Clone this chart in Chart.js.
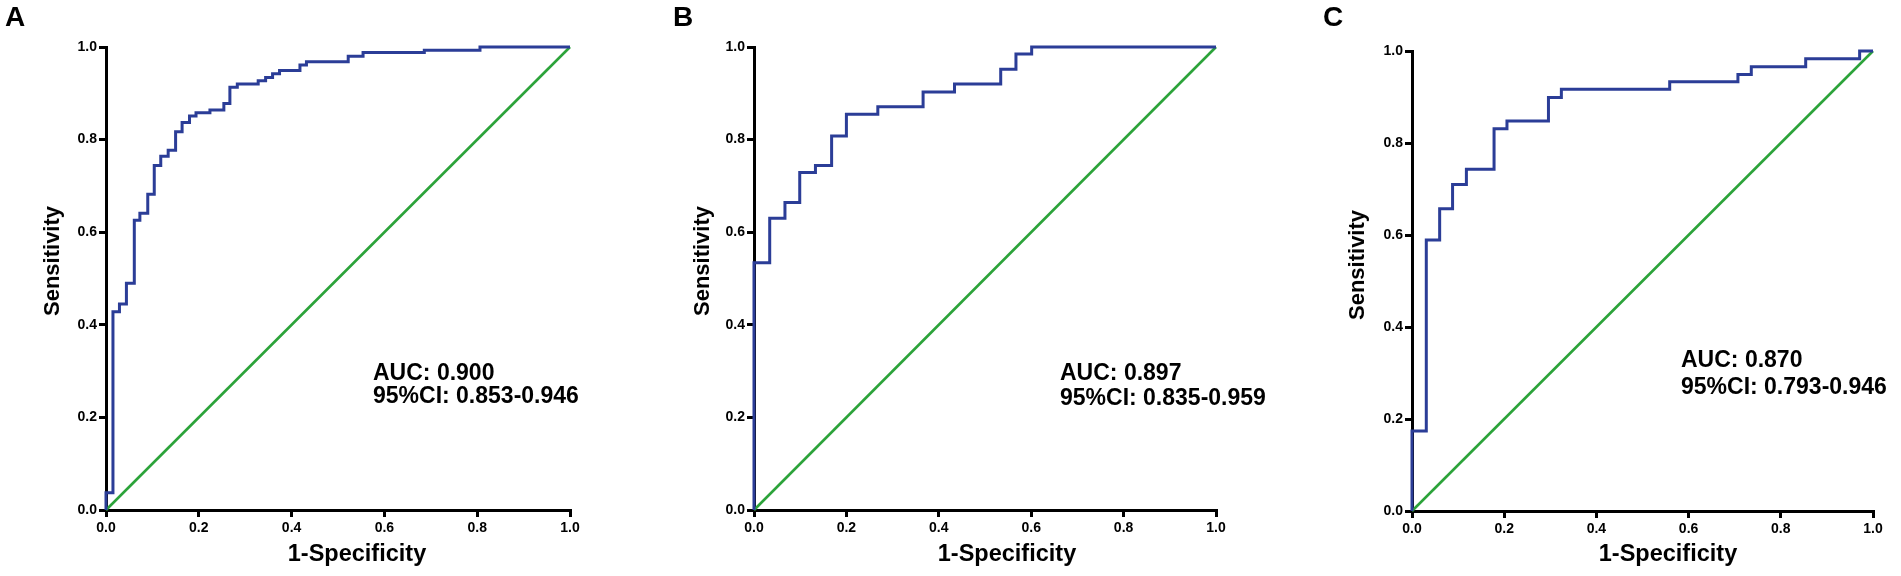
<!DOCTYPE html>
<html>
<head>
<meta charset="utf-8">
<script src="https://cdn.jsdelivr.net/npm/chart.js@4.4.1/dist/chart.umd.min.js"></script>
<style>
  html, body { margin: 0; padding: 0; background: #fff; }
  #wrap { position: relative; width: 1901px; height: 576px; overflow: hidden; background: #fff; }
  canvas { position: absolute; top: 0; }
  .txt { position: absolute; font-family: "Liberation Sans", Arial, Helvetica, sans-serif; font-weight: bold; color: #000; white-space: nowrap; line-height: 1; }
  .lbl { font-size: 28px; }
  .auc { font-size: 23px; }
  .xt { font-size: 23.5px; transform: translateX(-50%); }
  .yt { font-size: 22px; transform: translate(-50%, -50%) rotate(-90deg); }
</style>
</head>
<body>
<div id="wrap">
  <canvas id="cA" width="640" height="576" style="left:0px"></canvas>
  <canvas id="cB" width="620" height="576" style="left:650px"></canvas>
  <canvas id="cC" width="601" height="576" style="left:1300px"></canvas>

  <div class="txt lbl" style="left:5px; top:3px">A</div>
  <div class="txt lbl" style="left:673px; top:3px">B</div>
  <div class="txt lbl" style="left:1323px; top:3px">C</div>

  <div class="txt yt" style="left:52px; top:261px">Sensitivity</div>
  <div class="txt yt" style="left:702px; top:261px">Sensitivity</div>
  <div class="txt yt" style="left:1357px; top:265px">Sensitivity</div>

  <div class="txt xt" style="left:357px; top:542px">1-Specificity</div>
  <div class="txt xt" style="left:1007px; top:542px">1-Specificity</div>
  <div class="txt xt" style="left:1668px; top:542px">1-Specificity</div>

  <div class="txt auc" style="left:373px; top:361px">AUC: 0.900</div>
  <div class="txt auc" style="left:373px; top:384px">95%CI: 0.853-0.946</div>
  <div class="txt auc" style="left:1060px; top:361px">AUC: 0.897</div>
  <div class="txt auc" style="left:1060px; top:386px">95%CI: 0.835-0.959</div>
  <div class="txt auc" style="left:1681px; top:348px">AUC: 0.870</div>
  <div class="txt auc" style="left:1681px; top:375px">95%CI: 0.793-0.946</div>
</div>
<script>
// ---- Data ----
// Panel A ROC curve vertices (1-Specificity, Sensitivity), drawn as steps
const fprA = [0, 0, 0.015, 0.029, 0.044, 0.061, 0.073, 0.090, 0.104, 0.118, 0.134, 0.150, 0.164, 0.180, 0.194, 0.224, 0.254, 0.267, 0.283, 0.328, 0.344, 0.359, 0.374, 0.418, 0.432, 0.522, 0.554, 0.686, 0.806, 1.0];
const tprA = [0, 0.037, 0.428, 0.445, 0.490, 0.626, 0.641, 0.682, 0.744, 0.764, 0.777, 0.817, 0.837, 0.851, 0.858, 0.864, 0.878, 0.913, 0.920, 0.927, 0.934, 0.942, 0.949, 0.961, 0.968, 0.980, 0.988, 0.993, 1.0, 1.0];
// Panel B
const fprB = [0, 0, 0.034, 0.067, 0.099, 0.133, 0.168, 0.200, 0.268, 0.366, 0.434, 0.534, 0.567, 0.601, 1.0];
const tprB = [0, 0.534, 0.630, 0.664, 0.729, 0.744, 0.808, 0.855, 0.871, 0.903, 0.920, 0.952, 0.985, 1.0, 1.0];
// Panel C
const fprC = [0, 0, 0.031, 0.060, 0.088, 0.118, 0.178, 0.206, 0.296, 0.324, 0.559, 0.707, 0.736, 0.854, 0.971, 1.0];
const tprC = [0, 0.174, 0.589, 0.657, 0.710, 0.743, 0.831, 0.848, 0.899, 0.917, 0.933, 0.949, 0.966, 0.983, 1.0, 1.0];
// Reference (chance) line
const refX = [0, 1];
const refY = [0, 1];
// Tick labels
const xTickLabels = ['0.0', '0.2', '0.4', '0.6', '0.8', '1.0'];
const yTickLabels = ['0.0', '0.2', '0.4', '0.6', '0.8', '1.0'];

// ---- Styling ----
const BLUE = '#2b3d97';
const GREEN = '#2ca33a';
const FONT = '"Liberation Sans", Arial, Helvetica, sans-serif';

function pts(xs, ys) { return xs.map((x, i) => ({ x: x, y: ys[i] })); }

function makePanel(id, fpr, tpr, g) {
  const tickFont = { family: FONT, size: 14, weight: 'bold' };
  new Chart(document.getElementById(id), {
    type: 'line',
    data: {
      datasets: [
        { data: pts(fpr, tpr), borderColor: BLUE, borderWidth: 3, pointRadius: 0, stepped: 'before', fill: false, clip: false, order: 1 },
        { data: pts(refX, refY), borderColor: GREEN, borderWidth: 2.6, pointRadius: 0, fill: false, clip: false, order: 2 }
      ]
    },
    options: {
      responsive: false,
      animation: false,
      devicePixelRatio: 1,
      layout: { autoPadding: false, padding: { left: 0, right: g.pr, top: g.pt, bottom: 0 } },
      plugins: { legend: { display: false }, tooltip: { enabled: false }, title: { display: false } },
      scales: {
        x: {
          type: 'linear', min: 0, max: 1,
          ticks: { stepSize: 0.2, color: '#000', font: tickFont, padding: 3, maxRotation: 0,
                   callback: (v) => xTickLabels[Math.round(v / 0.2)] },
          grid: { drawOnChartArea: false, drawTicks: true, tickLength: 7, tickWidth: 3, tickColor: '#000', lineWidth: 3, color: '#000' },
          border: { display: true, color: '#000', width: 3 },
          afterFit: (s) => { s.height = g.xh; s.paddingLeft = 0; s.paddingRight = 0; }
        },
        y: {
          type: 'linear', min: 0, max: 1,
          ticks: { stepSize: 0.2, color: '#000', font: tickFont, padding: 2,
                   callback: (v) => yTickLabels[Math.round(v / 0.2)] },
          grid: { drawOnChartArea: false, drawTicks: true, tickLength: 7, tickWidth: 3, tickColor: '#000', lineWidth: 3, color: '#000' },
          border: { display: true, color: '#000', width: 3 },
          afterFit: (s) => { s.width = g.yw; s.paddingTop = 0; s.paddingBottom = 0; }
        }
      }
    }
  });
}

makePanel('cA', fprA, tprA, { yw: 106, pr: 70, pt: 47, xh: 66 });
makePanel('cB', fprB, tprB, { yw: 104, pr: 54, pt: 47, xh: 66 });
makePanel('cC', fprC, tprC, { yw: 112, pr: 28, pt: 51, xh: 65 });
</script>
</body>
</html>
